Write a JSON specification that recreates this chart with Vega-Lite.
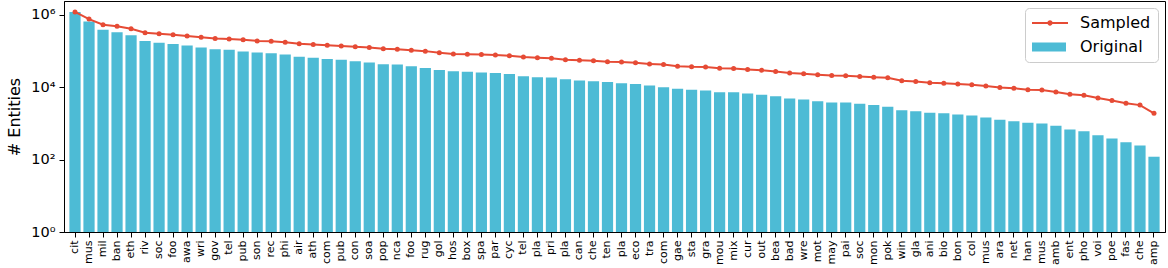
{
  "$schema": "https://vega.github.io/schema/vega-lite/v6.json",
  "width": 1101,
  "height": 231,
  "autosize": {"type": "none"},
  "padding": {"left": 64, "top": 1, "right": 3, "bottom": 36},
  "background": "white",
  "config": {
    "font": "DejaVu Sans",
    "view": {"stroke": "black", "strokeWidth": 1},
    "axis": {"domainColor": "black", "tickColor": "black", "labelColor": "black", "titleColor": "black", "grid": false, "labelFont": "DejaVu Sans", "titleFont": "DejaVu Sans"}
  },
  "data": {
    "values": [
      {"cat": "cit", "orig": 1200000, "samp": 1200000},
      {"cat": "mus", "orig": 650000, "samp": 760000},
      {"cat": "mil", "orig": 385000, "samp": 530000},
      {"cat": "ban", "orig": 330000, "samp": 480000},
      {"cat": "eth", "orig": 270000, "samp": 410000},
      {"cat": "riv", "orig": 190000, "samp": 320000},
      {"cat": "soc", "orig": 170000, "samp": 300000},
      {"cat": "foo", "orig": 155000, "samp": 280000},
      {"cat": "awa", "orig": 142000, "samp": 260000},
      {"cat": "wri", "orig": 125000, "samp": 240000},
      {"cat": "gov", "orig": 112000, "samp": 220000},
      {"cat": "tel", "orig": 108000, "samp": 215000},
      {"cat": "pub", "orig": 97000, "samp": 204000},
      {"cat": "son", "orig": 91000, "samp": 190000},
      {"cat": "rec", "orig": 87000, "samp": 187000},
      {"cat": "phi", "orig": 80000, "samp": 174000},
      {"cat": "air", "orig": 69000, "samp": 158000},
      {"cat": "ath", "orig": 65000, "samp": 152000},
      {"cat": "com", "orig": 60000, "samp": 145000},
      {"cat": "pub_2", "orig": 57000, "samp": 138000},
      {"cat": "con", "orig": 52000, "samp": 130000},
      {"cat": "soa", "orig": 48000, "samp": 125000},
      {"cat": "pop", "orig": 43000, "samp": 115000},
      {"cat": "nca", "orig": 42000, "samp": 112000},
      {"cat": "foo_2", "orig": 38000, "samp": 105000},
      {"cat": "rug", "orig": 34000, "samp": 99000},
      {"cat": "gol", "orig": 30000, "samp": 89000},
      {"cat": "hos", "orig": 27700, "samp": 83000},
      {"cat": "box", "orig": 26600, "samp": 81000},
      {"cat": "spa", "orig": 25400, "samp": 80000},
      {"cat": "par", "orig": 24500, "samp": 77000},
      {"cat": "cyc", "orig": 23000, "samp": 74000},
      {"cat": "tel_2", "orig": 20000, "samp": 68000},
      {"cat": "pla", "orig": 18800, "samp": 65000},
      {"cat": "pri", "orig": 18600, "samp": 63000},
      {"cat": "pla_2", "orig": 16600, "samp": 57000},
      {"cat": "can", "orig": 15300, "samp": 55000},
      {"cat": "che", "orig": 14600, "samp": 54000},
      {"cat": "ten", "orig": 13800, "samp": 50000},
      {"cat": "pla_3", "orig": 12900, "samp": 49500},
      {"cat": "eco", "orig": 12200, "samp": 47000},
      {"cat": "tra", "orig": 11200, "samp": 44000},
      {"cat": "com_2", "orig": 10000, "samp": 42000},
      {"cat": "gae", "orig": 9000, "samp": 38000},
      {"cat": "sta", "orig": 8500, "samp": 36500},
      {"cat": "gra", "orig": 8100, "samp": 36000},
      {"cat": "mou", "orig": 7300, "samp": 33500},
      {"cat": "mix", "orig": 7200, "samp": 33000},
      {"cat": "cur", "orig": 6700, "samp": 31000},
      {"cat": "out", "orig": 6200, "samp": 29500},
      {"cat": "bea", "orig": 5600, "samp": 27000},
      {"cat": "bad", "orig": 4900, "samp": 24500},
      {"cat": "wre", "orig": 4600, "samp": 23500},
      {"cat": "mot", "orig": 4100, "samp": 22000},
      {"cat": "may", "orig": 3800, "samp": 21000},
      {"cat": "pai", "orig": 3750, "samp": 20700},
      {"cat": "soc_2", "orig": 3500, "samp": 19700},
      {"cat": "mon", "orig": 3200, "samp": 18800},
      {"cat": "pok", "orig": 2900, "samp": 18200},
      {"cat": "win", "orig": 2300, "samp": 15000},
      {"cat": "gla", "orig": 2180, "samp": 14400},
      {"cat": "ani", "orig": 1960, "samp": 13200},
      {"cat": "bio", "orig": 1900, "samp": 12900},
      {"cat": "bon", "orig": 1760, "samp": 12200},
      {"cat": "col", "orig": 1650, "samp": 11600},
      {"cat": "mus_2", "orig": 1450, "samp": 10700},
      {"cat": "ara", "orig": 1260, "samp": 9800},
      {"cat": "net", "orig": 1150, "samp": 9400},
      {"cat": "han", "orig": 1040, "samp": 8500},
      {"cat": "mus_3", "orig": 1000, "samp": 8300},
      {"cat": "amb", "orig": 860, "samp": 7400},
      {"cat": "ent", "orig": 680, "samp": 6400},
      {"cat": "pho", "orig": 610, "samp": 6000},
      {"cat": "voi", "orig": 470, "samp": 5000},
      {"cat": "poe", "orig": 380, "samp": 4300},
      {"cat": "fas", "orig": 300, "samp": 3600},
      {"cat": "che_2", "orig": 245, "samp": 3200},
      {"cat": "amp", "orig": 120, "samp": 1900}
    ]
  },
  "encoding": {
    "x": {
      "field": "cat",
      "type": "nominal",
      "sort": null,
      "scale": {"paddingInner": 0.2, "paddingOuter": 0.385},
      "axis": {
        "title": null,
        "labelAngle": -90,
        "labelFontSize": 11,
        "tickSize": 5,
        "labelPadding": 3,
        "labelExpr": "substring(datum.value, 0, 3)"
      }
    }
  },
  "layer": [
    {
      "mark": {"type": "bar"},
      "encoding": {
        "y": {
          "field": "orig",
          "type": "quantitative",
          "stack": null,
          "scale": {"type": "log", "domain": [1, 2400000], "nice": false},
          "axis": {
            "title": "# Entities",
            "titleFontSize": 16,
            "titleFontWeight": "normal",
            "titlePadding": 8,
            "labelFontSize": 14.5,
            "tickSize": 5,
            "labelPadding": 4,
            "values": [1, 100, 10000, 1000000],
            "labelExpr": "datum.value == 1 ? '10⁰' : datum.value == 100 ? '10²' : datum.value == 10000 ? '10⁴' : '10⁶'"
          }
        },
        "color": {
          "datum": "Original",
          "type": "nominal",
          "scale": {"domain": ["Sampled", "Original"], "range": ["#E64B35", "#4DBBD5"]},
          "legend": {
            "title": null,
            "orient": "top-right",
            "offset": 7,
            "padding": 7,
            "rowPadding": 8,
            "labelFont": "DejaVu Sans",
            "labelFontSize": 16,
            "labelColor": "black",
            "labelOffset": 32,
            "symbolSize": 256,
            "strokeColor": "#cccccc",
            "cornerRadius": 4,
            "fillColor": "rgba(255,255,255,0.8)",
            "encode": {
              "symbols": {
                "update": {
                  "shape": {"signal": "datum.value === 'Sampled' ? 'M-1,-0.12H3.5V0.12H-1Z M0.92,0A0.33,0.33 0 1,1 1.58,0A0.33,0.33 0 1,1 0.92,0Z' : 'M-1,-0.56H3.25V0.56H-1Z'"},
                  "fill": {"signal": "datum.value === 'Sampled' ? '#E64B35' : '#4DBBD5'"},
                  "stroke": {"value": "transparent"},
                  "strokeWidth": {"value": 0},
                  "opacity": {"value": 1}
                }
              }
            }
          }
        }
      }
    },
    {
      "mark": {"type": "line", "strokeWidth": 2, "point": {"filled": true, "size": 25}},
      "encoding": {
        "y": {"field": "samp", "type": "quantitative", "stack": null},
        "color": {"datum": "Sampled", "type": "nominal"}
      }
    }
  ]
}
